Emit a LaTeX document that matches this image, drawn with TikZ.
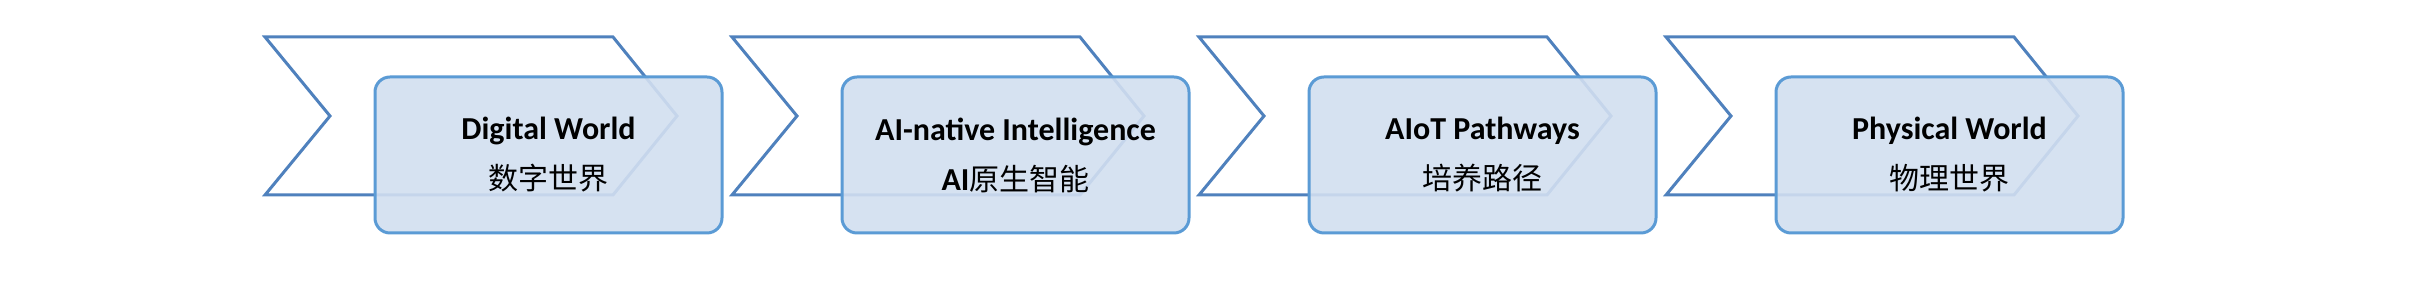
\documentclass[tikz,border=0pt]{standalone}
\usepackage{fontspec}
\setmainfont{Carlito}
\newfontfamily\cjk{Noto Sans CJK SC}
\usepackage{xcolor}
\definecolor{chevline}{HTML}{4F81BD}
\definecolor{boxline}{HTML}{5B9BD5}
\definecolor{boxfill}{HTML}{D2DFF0}
\usetikzlibrary{positioning}

\begin{document}
\begin{tikzpicture}[
  x=0.5pt, y=-0.5pt,
  chevron/.style={draw=chevline, line width=1.5pt, fill=white, line join=miter},
  stagebox/.style={draw=boxline, line width=1.5pt, fill=boxfill, fill opacity=0.9,
                   text opacity=1, rounded corners=7.5pt,
                   minimum width=173.5pt, minimum height=78pt,
                   align=center, font=\fontsize{16}{25}\selectfont\bfseries}
]
\useasboundingbox (0,0) rectangle (2433,308);

\foreach \i/\en/\zh in {0/Digital World/{\cjk\mdseries\fontsize{15}{25}\selectfont 数字世界},
                        1/AI-native Intelligence/{AI\cjk\mdseries\fontsize{15}{25}\selectfont 原生智能},
                        2/AIoT Pathways/{\cjk\mdseries\fontsize{15}{25}\selectfont 培养路径},
                        3/Physical World/{\cjk\mdseries\fontsize{15}{25}\selectfont 物理世界}} {
  \begin{scope}[xshift=233.5pt*\i]
    \draw[chevron] (265,37) -- (613,37) -- (677,116) -- (613,195)
      -- (265,195) -- (330,116) -- cycle;
    \node[stagebox] (stage\i) at (548.5,155) {\en\\\zh};
  \end{scope}
}

\end{tikzpicture}
\end{document}
